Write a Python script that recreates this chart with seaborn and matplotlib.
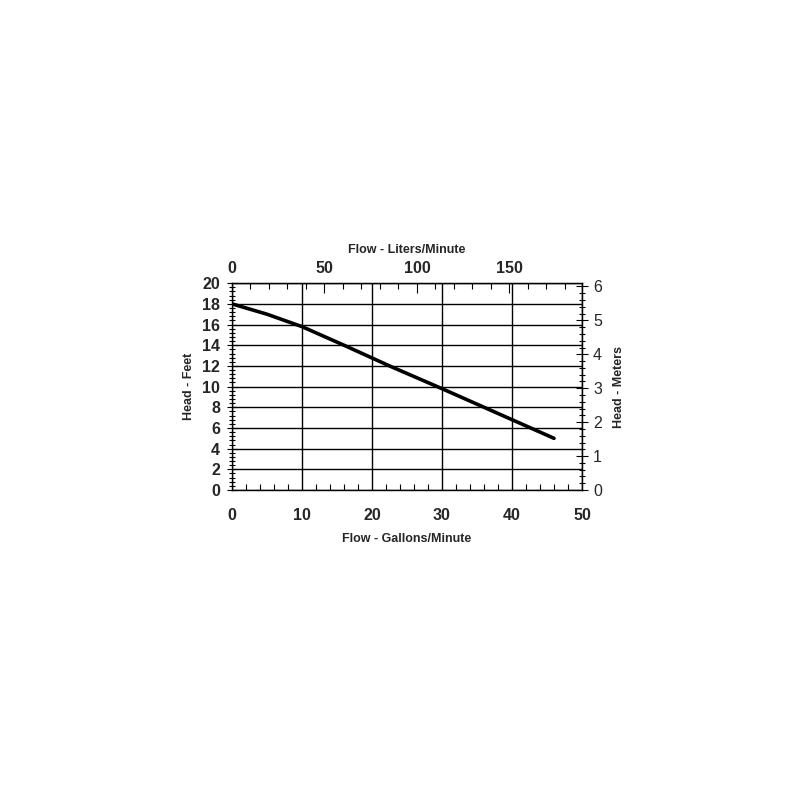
import matplotlib
matplotlib.use("Agg")
import matplotlib.pyplot as plt
import seaborn as sns
import pandas as pd
from matplotlib.ticker import MultipleLocator

sns.set_style("white")
plt.rcParams['font.family'] = ['Liberation Sans', 'DejaVu Sans']

flow_gpm = [0, 5, 10, 16, 22.5, 30, 36, 40, 46]
head_ft = [18, 17, 15.8, 14, 12, 9.8, 8, 6.8, 5]

df = pd.DataFrame({"gpm": flow_gpm, "ft": head_ft})

fig = plt.figure(figsize=(8, 8), dpi=100)
ax = fig.add_axes([0.29, 0.3875, 0.4375, 0.2585])
sns.lineplot(data=df, x="gpm", y="ft", ax=ax, color="black", linewidth=2.6)

ax.set_xlim(0, 50)
ax.set_ylim(0, 20)
ax.xaxis.set_major_locator(MultipleLocator(10))
ax.xaxis.set_minor_locator(MultipleLocator(2))
ax.yaxis.set_major_locator(MultipleLocator(2))
ax.yaxis.set_minor_locator(MultipleLocator(0.4))
ax.grid(True, which="major", color="black", linewidth=1)
for s in ax.spines.values():
    s.set_color("black")
    s.set_linewidth(1)

fs = 11.5
ax.tick_params(axis="x", which="major", bottom=True, top=False, direction="in", length=0, pad=13, labelsize=fs)
ax.tick_params(axis="x", which="minor", bottom=True, top=False, direction="in", length=4, width=0.8, color="black")
ax.tick_params(axis="y", which="major", left=True, right=False, direction="inout", length=7, pad=5, labelsize=fs, color="black")
ax.tick_params(axis="y", which="minor", left=True, right=False, direction="inout", length=5, width=0.8, color="black")
for lab in ax.get_xticklabels() + ax.get_yticklabels():
    lab.set_fontweight("bold")

ax.set_xlabel("Flow - Gallons/Minute", fontsize=9, fontweight="bold", labelpad=7)
ax.set_ylabel("Head - Feet", fontsize=9, fontweight="bold", labelpad=5)

GPM2LPM = 3.785
FT2M = 0.3048
top = ax.secondary_xaxis("top", functions=(lambda x: x * GPM2LPM, lambda x: x / GPM2LPM))
top.xaxis.set_major_locator(MultipleLocator(50))
top.xaxis.set_minor_locator(MultipleLocator(10))
top.tick_params(axis="x", which="major", top=True, direction="in", length=7, pad=5, labelsize=fs, color="black")
top.tick_params(axis="x", which="minor", top=True, direction="in", length=4, width=0.8, color="black")
for lab in top.get_xticklabels():
    lab.set_fontweight("bold")
top.set_xlabel("Flow - Liters/Minute", fontsize=9, fontweight="bold", labelpad=6)

right = ax.secondary_yaxis("right", functions=(lambda y: y * FT2M, lambda y: y / FT2M))
right.yaxis.set_major_locator(MultipleLocator(1))
right.yaxis.set_minor_locator(MultipleLocator(0.2))
right.tick_params(axis="y", which="major", right=True, direction="inout", length=8, pad=4, labelsize=fs, color="black")
right.tick_params(axis="y", which="minor", right=True, direction="inout", length=5, width=0.8, color="black")
right.set_ylabel("Head - Meters", fontsize=9, fontweight="bold", labelpad=8)

fig.savefig("out.png", dpi=100)
